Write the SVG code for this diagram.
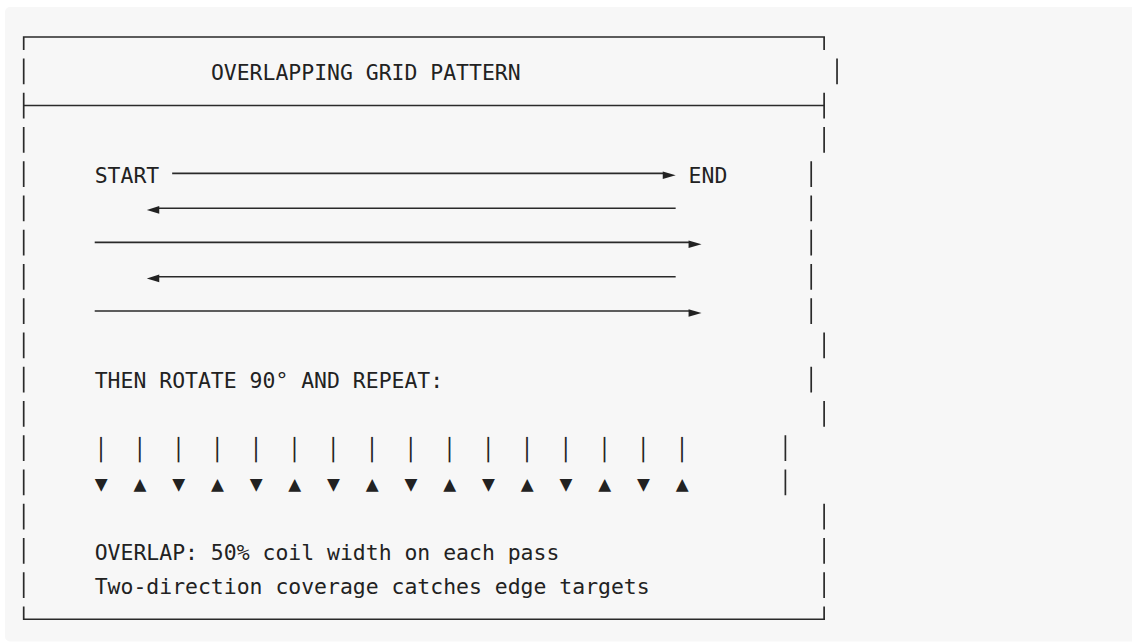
<svg xmlns="http://www.w3.org/2000/svg" width="1132" height="642" viewBox="0 0 1132 642">
  <style>
    .t { font-family: "DejaVu Sans Mono", "Liberation Mono", monospace; font-size: 21.45px; fill: #222; }
    .b { stroke: #2a2a2a; stroke-width: 1.7; fill: none; }
    .c { stroke: #2a2a2a; stroke-width: 1.7; fill: none; }
    .h { fill: #222; stroke: none; }
  </style>
  <rect x="5" y="7" width="1132" height="634.5" rx="5" fill="#f7f7f7"/>

  <g id="frame" class="b">
    <!-- top border -->
    <path d="M23.7 50 V37 H824.12 V50"/>
    <!-- separator -->
    <path d="M23.7 105.5 H824.12"/>
    <!-- bottom border -->
    <path d="M23.7 606.55 V619.25 H824.12 V606.55"/>
    <!-- left border segments -->
    <path d="M23.7 58.55 v25.7 M23.7 92.8 v25.7 M23.7 127.05 v25.7 M23.7 161.3 v25.7 M23.7 195.55 v25.7 M23.7 229.8 v25.7 M23.7 264.05 v25.7 M23.7 298.3 v25.7 M23.7 332.55 v25.7 M23.7 366.8 v25.7 M23.7 401.05 v25.7 M23.7 435.3 v25.7 M23.7 469.55 v25.7 M23.7 503.8 v25.7 M23.7 538.05 v25.7 M23.7 572.3 v25.7"/>
    <!-- right border segments -->
    <path d="M837.03 58.55 v25.7 M824.12 92.8 v25.7 M824.12 127.05 v25.7 M811.21 161.3 v25.7 M811.21 195.55 v25.7 M811.21 229.8 v25.7 M811.21 264.05 v25.7 M811.21 298.3 v25.7 M824.12 332.55 v25.7 M811.21 366.8 v25.7 M824.12 401.05 v25.7 M785.39 435.3 v25.7 M785.39 469.55 v25.7 M824.12 503.8 v25.7 M824.12 538.05 v25.7 M824.12 572.3 v25.7"/>
  </g>

  <g id="title">
    <text class="t" x="210.9" y="80.05">OVERLAPPING GRID PATTERN</text>
  </g>

  <g id="start"><text class="t" x="94.71" y="182.8">START</text></g>
  <g id="end"><text class="t" x="688.57" y="182.8">END</text></g>

  <g id="connectors">
    <line class="c" x1="172.17" y1="173.3" x2="664" y2="173.3"/>
    <polygon class="h" points="662.75,171.5 675.7,175.3 662.75,179.1"/>

    <line class="c" x1="158" y1="208.25" x2="675.66" y2="208.25"/>
    <polygon class="h" points="159.26,206.1 146.8,209.9 159.26,213.7"/>

    <line class="c" x1="94.71" y1="242.3" x2="690" y2="242.3"/>
    <polygon class="h" points="688.57,240.5 701.5,244.3 688.57,248.1"/>

    <line class="c" x1="158" y1="276.75" x2="675.66" y2="276.75"/>
    <polygon class="h" points="159.26,274.6 146.8,278.4 159.26,282.2"/>

    <line class="c" x1="94.71" y1="311" x2="690" y2="311"/>
    <polygon class="h" points="688.57,309.2 701.5,313 688.57,316.8"/>
  </g>

  <g id="rotate">
    <text class="t" x="94.71" y="388.3">THEN ROTATE 90° AND REPEAT:</text>
  </g>

  <g id="passes">
    <text class="t" x="94.71 133.44 172.17 210.9 249.63 288.36 327.09 365.82 404.55 443.28 482.01 520.74 559.47 598.2 636.93 675.66" y="456.8">││││││││││││││││</text>
    <text class="t" x="94.71 133.44 172.17 210.9 249.63 288.36 327.09 365.82 404.55 443.28 482.01 520.74 559.47 598.2 636.93 675.66" y="491.05">▼▲▼▲▼▲▼▲▼▲▼▲▼▲▼▲</text>
  </g>

  <g id="notes">
    <text class="t" x="94.71" y="559.55">OVERLAP: 50% coil width on each pass</text>
    <text class="t" x="94.71" y="593.8">Two-direction coverage catches edge targets</text>
  </g>
</svg>
